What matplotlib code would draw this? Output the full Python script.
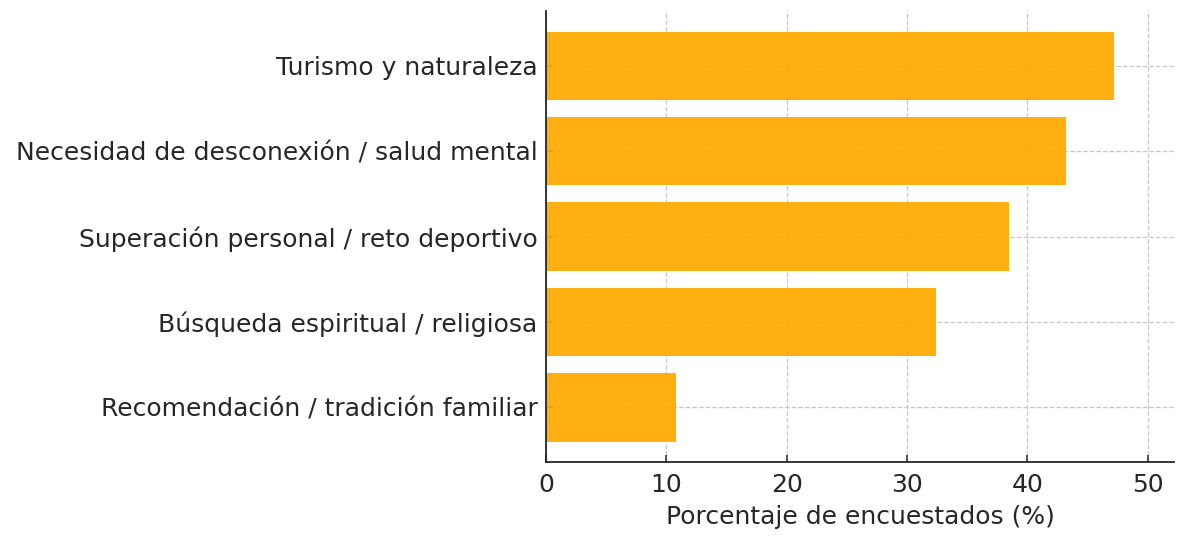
import matplotlib
matplotlib.use("Agg")
import matplotlib.pyplot as plt

categories = [
    "Turismo y naturaleza",
    "Necesidad de desconexión / salud mental",
    "Superación personal / reto deportivo",
    "Búsqueda espiritual / religiosa",
    "Recomendación / tradición familiar",
]
values = [47.2, 43.2, 38.5, 32.4, 10.8]
xticks = [0, 10, 20, 30, 40, 50]
xlabel = "Porcentaje de encuestados (%)"

bar_color = "#FEAA00"
text_color = "#262626"

fig = plt.figure(figsize=(12, 5.36), dpi=100)
ax = fig.add_axes([546/1200, 1 - 462/536, (1174-546)/1200, (462-11)/536])

ypos = list(range(len(categories)))
ax.barh(ypos, values, height=0.8, color=bar_color, alpha=0.93, zorder=2)
ax.set_yticks(ypos)
ax.set_yticklabels(categories, fontsize=18, color=text_color)
ax.invert_yaxis()

ax.set_xlim(0, 52.2)
ax.set_xticks(xticks)
ax.set_xticklabels([str(t) for t in xticks], fontsize=18, color=text_color)
ax.set_xlabel(xlabel, fontsize=18, color=text_color, labelpad=6)

ax.grid(True, linestyle="--", color="#c8c8c8", linewidth=0.9, zorder=0)
ax.set_axisbelow(True)

for s in ["top", "right"]:
    ax.spines[s].set_visible(False)
for s in ["left", "bottom"]:
    ax.spines[s].set_color(text_color)
    ax.spines[s].set_linewidth(1.3)
    ax.spines[s].set_zorder(3)

ax.tick_params(axis="both", direction="in", length=5, width=1.1, color=text_color, pad=6)
ax.tick_params(axis="x", pad=8)

fig.savefig("out.png", dpi=100)
